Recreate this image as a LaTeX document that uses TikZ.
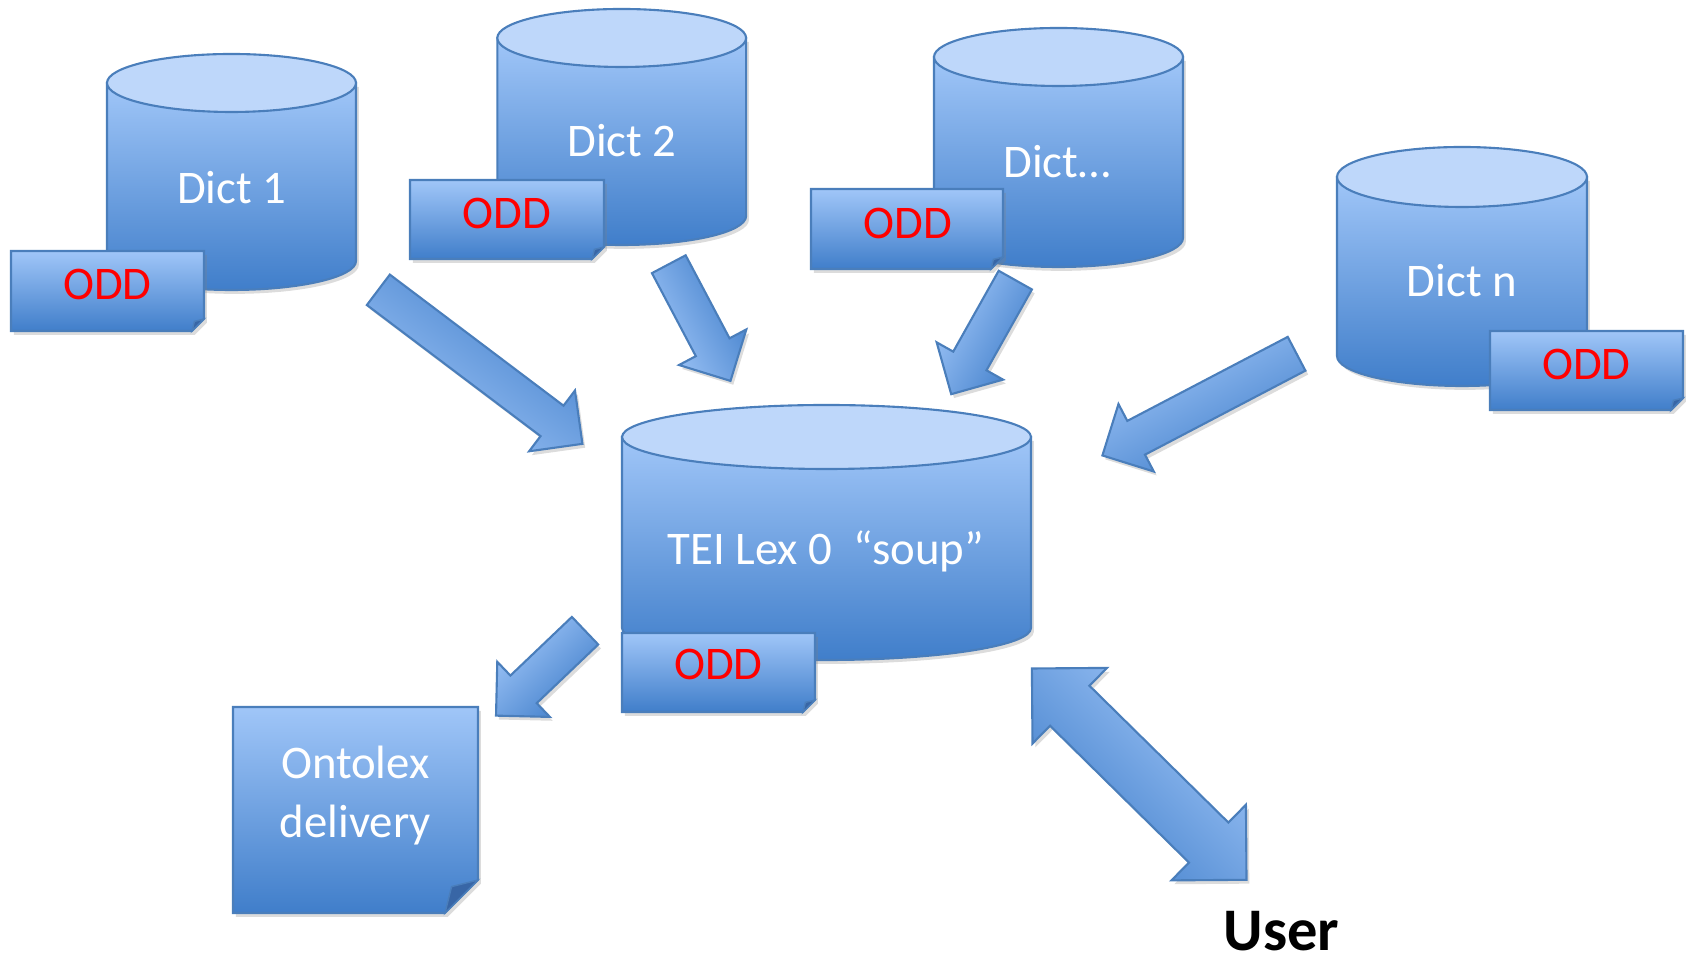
\documentclass[tikz,border=0pt]{standalone}
\usepackage{fontspec}
\setmainfont{Carlito}
\usetikzlibrary{calc, shapes.arrows, shadows}

\definecolor{bordc}{RGB}{74,126,187}
\definecolor{lightc}{RGB}{160,198,248}
\definecolor{darkc}{RGB}{64,126,202}
\definecolor{capc}{RGB}{190,215,250}
\definecolor{foldc}{RGB}{56,102,166}

\tikzset{
	softshadow/.style={drop shadow={opacity=0.28, shadow xshift=0.8pt, shadow yshift=-1.1pt}},
	dbbody/.style={draw=bordc, line width=0.6pt, top color=lightc, bottom color=darkc, softshadow},
	dbcap/.style={draw=bordc, line width=0.6pt, fill=capc},
	notebody/.style={draw=bordc, line width=0.6pt, top color=lightc, bottom color=darkc, softshadow},
	notefold/.style={draw=bordc, line width=0.4pt, fill=foldc},
	dbtext/.style={anchor=base, text=white, inner sep=0pt, align=center,
		font=\fontsize{13.3}{16.8}\selectfont},
	oddtext/.style={anchor=base, text=red, inner sep=0pt, font=\fontsize{13.3}{15.2}\selectfont},
	usertext/.style={anchor=base, text=black, inner sep=0pt, font=\bfseries\fontsize{17.2}{20}\selectfont},
	fatarrow/.style={single arrow, single arrow head extend=0.19cm, minimum width=0.74cm,
		inner xsep=0pt, inner ysep=0.18cm, draw=bordc, line width=0.6pt,
		top color=darkc, bottom color=lightc, softshadow},
	twoway/.style={double arrow, double arrow head extend=0.25cm, minimum width=1.045cm,
		inner xsep=0pt, inner ysep=0.27cm, draw=bordc, line width=0.6pt,
		top color=darkc, bottom color=lightc, softshadow}
}

% cylinder: centre x, top y, bottom y, x radius, y radius
\newcommand{\dbcyl}[5]{%
	\path[dbbody] (#1-#4,#2) -- (#1-#4,#3) arc[start angle=180, end angle=0, x radius=#4, y radius=#5] -- (#1+#4,#2) -- cycle;
	\path[dbcap] (#1,#2) ellipse[x radius=#4, y radius=#5];
}
% note with folded corner: x1, y1, x2, y2, fold
\newcommand{\oddnote}[5]{%
	\path[notebody] (#1,#2) -- (#3,#2) -- (#3,#4-#5) -- (#3-#5,#4) -- (#1,#4) -- cycle;
	\path[notefold] (#3,#4-#5) -- (#3-#5,#4) -- (#3-0.8*#5,#4-0.8*#5) -- cycle;
}
% block arrow: name, tail, tip
\newcommand{\blockarrow}[3]{%
	\path let \p1=($(#3)-(#2)$), \n1={atan2(\y1,\x1)}, \n2={veclen(\x1,\y1)} in
		node[fatarrow, rotate=\n1, shading angle=\n1, minimum height=\n2, anchor=tail] (#1) at (#2) {};
}

\begin{document}
\begin{tikzpicture}[x=0.01cm, y=-0.01cm]
	\useasboundingbox (0,0) rectangle (1688,965);
	
	% sources
	\dbcyl{231.5}{83}{261}{124.5}{29}
	\node[dbtext] (dict1) at (231.7,203.3) {Dict 1};
	\oddnote{11}{251}{204}{331}{12}
	\node[oddtext] (odd1) at (107.5,300) {ODD};
	
	\dbcyl{621.7}{38}{216}{124.4}{29}
	\node[dbtext] (dict2) at (622,157) {Dict 2};
	\oddnote{410}{180}{604}{259}{12}
	\node[oddtext] (odd2) at (507,229) {ODD};
	
	\dbcyl{1058.5}{57}{238}{124.5}{29}
	\node[dbtext] (dictx) at (1057,177.3) {Dict\dots};
	\oddnote{811}{189}{1003}{269}{12}
	\node[oddtext] (odd3) at (907.8,238.3) {ODD};
	
	\dbcyl{1462}{177}{356}{125}{30}
	\node[dbtext] (dictn) at (1462,296.7) {Dict n};
	\oddnote{1490}{331}{1683}{410}{12}
	\node[oddtext] (oddn) at (1586.3,379.3) {ODD};
	
	% the soup
	\dbcyl{826.5}{437}{628}{204.5}{32}
	\node[dbtext] (tei) at (825.8,565) {TEI Lex 0~~“soup”};
	\oddnote{622}{633}{815}{712}{12}
	\node[oddtext] (oddtei) at (718.3,680) {ODD};
	
	% output
	\oddnote{233}{707}{478}{913}{33}
	\node[dbtext] (ontolex) at (355.3,838) {Ontolex\\delivery};
	\node[usertext] (user) at (1281.7,951) {User};
	
	% arrows
	\coordinate (a1s) at (377.5,289.2); \coordinate (a1e) at (581.7,443.3);
	\coordinate (a2s) at (668.3,263.3); \coordinate (a2e) at (730,380);
	\coordinate (a3s) at (1015.8,279.2); \coordinate (a3e) at (951.7,393.3);
	\coordinate (a4s) at (1297.5,353.3); \coordinate (a4e) at (1103.3,455);
	\coordinate (a5s) at (585.8,630); \coordinate (a5e) at (496.7,715);
	\coordinate (u1) at (1031.7,668.3); \coordinate (u2) at (1246.7,880);
	
	\blockarrow{in1}{a1s}{a1e}
	\blockarrow{in2}{a2s}{a2e}
	\blockarrow{in3}{a3s}{a3e}
	\blockarrow{in4}{a4s}{a4e}
	\blockarrow{out}{a5s}{a5e}
	\path let \p1=($(u1)-(u2)$), \n1={atan2(\y1,\x1)}, \n2={veclen(\x1,\y1)} in
		node[twoway, rotate=\n1, shading angle=\n1, minimum height=\n2] (useraccess) at ($(u1)!0.5!(u2)$) {};
\end{tikzpicture}
\end{document}
